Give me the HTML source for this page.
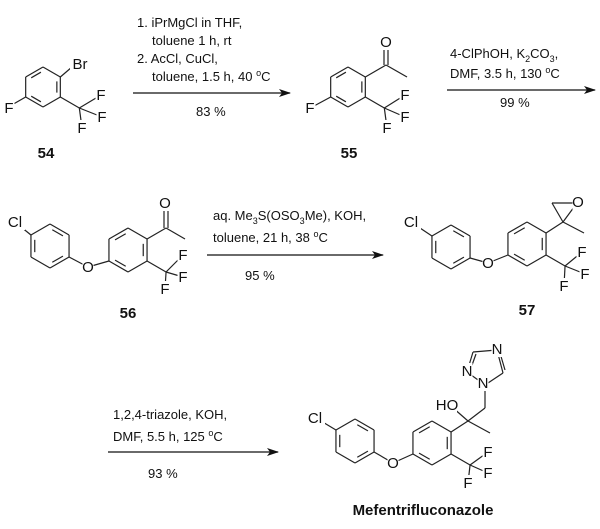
<!DOCTYPE html>
<html><head><meta charset="utf-8"><style>
html,body{margin:0;padding:0;background:#fff;}
svg{display:block;font-family:"Liberation Sans",Arial,sans-serif;}
.t{font-size:13px;fill:#111;}
.a{font-size:15px;fill:#111;}
.b{font-size:15px;font-weight:bold;fill:#111;}
</style></head><body>
<svg id="s" width="600" height="529" viewBox="0 0 600 529" xmlns="http://www.w3.org/2000/svg">
<defs><marker id="ar" markerWidth="12" markerHeight="8" refX="11" refY="4" orient="auto" markerUnits="userSpaceOnUse"><path d="M0,0 L12,4 L0,8 L3,4 z" fill="#111"/></marker></defs>
<g id="bonds" stroke="#222" stroke-width="1.2" fill="none"></g>
<g id="arrows" stroke="#111" stroke-width="1.3">
<line x1="133" y1="93" x2="290" y2="93" marker-end="url(#ar)"/>
<line x1="447" y1="90" x2="595" y2="90" marker-end="url(#ar)"/>
<line x1="207" y1="255" x2="383" y2="255" marker-end="url(#ar)"/>
<line x1="108" y1="452" x2="278" y2="452" marker-end="url(#ar)"/>
</g>
<g id="labels"></g>
<text class="t" x="137" y="27">1. iPrMgCl in THF,</text>
<text class="t" x="152" y="45">toluene 1 h, rt</text>
<text class="t" x="137" y="63">2. AcCl, CuCl,</text>
<text class="t" x="152" y="81">toluene, 1.5 h, 40 <tspan font-size="9" dy="-5">o</tspan><tspan dy="5">C</tspan></text>
<text class="t" x="196" y="116">83 %</text>
<text class="t" x="450" y="58">4-ClPhOH, K<tspan font-size="9" dy="4">2</tspan><tspan dy="-4">CO</tspan><tspan font-size="9" dy="4">3</tspan><tspan dy="-4">,</tspan></text>
<text class="t" x="450" y="78">DMF, 3.5 h, 130 <tspan font-size="9" dy="-5">o</tspan><tspan dy="5">C</tspan></text>
<text class="t" x="500" y="107">99 %</text>
<text class="t" x="213" y="220">aq. Me<tspan font-size="9" dy="4">3</tspan><tspan dy="-4">S(OSO</tspan><tspan font-size="9" dy="4">3</tspan><tspan dy="-4">Me), KOH,</tspan></text>
<text class="t" x="213" y="242">toluene, 21 h, 38 <tspan font-size="9" dy="-5">o</tspan><tspan dy="5">C</tspan></text>
<text class="t" x="245" y="280">95 %</text>
<text class="t" x="113" y="419">1,2,4-triazole, KOH,</text>
<text class="t" x="113" y="441">DMF, 5.5 h, 125 <tspan font-size="9" dy="-5">o</tspan><tspan dy="5">C</tspan></text>
<text class="t" x="148" y="478">93 %</text>
<text class="b" x="46" y="158" text-anchor="middle">54</text>
<text class="b" x="349" y="158" text-anchor="middle">55</text>
<text class="b" x="128" y="318" text-anchor="middle">56</text>
<text class="b" x="527" y="315" text-anchor="middle">57</text>
<text class="b" x="423" y="515" text-anchor="middle" font-size="14">Mefentrifluconazole</text>
</svg>
<script>
var B=document.getElementById('bonds'),L=document.getElementById('labels'),NS='http://www.w3.org/2000/svg';
function ln(x1,y1,x2,y2){var e=document.createElementNS(NS,'line');e.setAttribute('x1',x1);e.setAttribute('y1',y1);e.setAttribute('x2',x2);e.setAttribute('y2',y2);B.appendChild(e);}
function lb(t,x,y){var w=t.length*9+2;var r=document.createElementNS(NS,'rect');r.setAttribute('x',x-w/2);r.setAttribute('y',y-8);r.setAttribute('width',w);r.setAttribute('height',16);r.setAttribute('fill','#fff');L.appendChild(r);
var e=document.createElementNS(NS,'text');e.setAttribute('class','a');e.setAttribute('x',x);e.setAttribute('y',y+5);e.setAttribute('text-anchor','middle');e.textContent=t;L.appendChild(e);}
function ring(cx,cy,r,sides){var v=[];for(var k=0;k<6;k++){var a=(-90+60*k)*Math.PI/180;v.push([cx+r*Math.cos(a),cy+r*Math.sin(a)]);}
for(var k=0;k<6;k++){var p=v[k],q=v[(k+1)%6];ln(p[0],p[1],q[0],q[1]);}
sides.forEach(function(k){var p=v[k],q=v[(k+1)%6];var f=0.8;
var pi=[cx+(p[0]-cx)*f,cy+(p[1]-cy)*f],qi=[cx+(q[0]-cx)*f,cy+(q[1]-cy)*f];
var s=0.15;ln(pi[0]+(qi[0]-pi[0])*s,pi[1]+(qi[1]-pi[1])*s,qi[0]-(qi[0]-pi[0])*s,qi[1]-(qi[1]-pi[1])*s);});return v;}
function cf3(x,y,f1,f2,f3){ln(x,y,x+19,y+11);ln(x+19,y+11,f1[0],f1[1]);ln(x+19,y+11,f2[0],f2[1]);ln(x+19,y+11,f3[0],f3[1]);lb('F',f1[0],f1[1]);lb('F',f2[0],f2[1]);lb('F',f3[0],f3[1]);}
var v,w;
v=ring(43,87,20,[5,1,3]);
ln(v[1][0],v[1][1],72,67);lb('Br',80,64);
ln(v[4][0],v[4][1],10,106);lb('F',9,108);
cf3(v[2][0],v[2][1],[101,95],[102,117],[82,128]);
v=ring(348,87,20,[5,1,3]);
ln(v[1][0],v[1][1],386,65);ln(386,65,407,77);ln(384,65,384,48);ln(388,65,388,48);lb('O',386,42);
ln(v[4][0],v[4][1],314,106);lb('F',310,108);
cf3(v[2][0],v[2][1],[405,95],[405,117],[387,128]);
v=ring(128,250,22,[5,1,3]);
ln(v[1][0],v[1][1],166,228);ln(166,228,185,239);ln(164,228,164,208);ln(168,228,168,208);lb('O',165,203);
cf3(v[2][0],v[2][1],[183,255],[183,277],[165,289]);
w=ring(50,246,22,[0,2,4]);
ln(v[4][0],v[4][1],88,267);ln(w[2][0],w[2][1],88,267);lb('O',88,267);
ln(w[5][0],w[5][1],15,222);lb('Cl',15,222);
v=ring(527,244,22,[5,1,3]);
ln(v[1][0],v[1][1],563,222);ln(563,222,584,233);ln(563,222,552,203);ln(552,203,577,203);ln(563,222,577,203);lb('O',578,202);
cf3(v[2][0],v[2][1],[582,252],[585,274],[564,286]);
w=ring(451,247,22,[0,2,4]);
ln(v[4][0],v[4][1],488,263);ln(w[2][0],w[2][1],488,263);lb('O',488,263);
ln(w[5][0],w[5][1],411,222);lb('Cl',411,222);
v=ring(432,443,22,[5,1,3]);
ln(v[1][0],v[1][1],468,421);ln(468,421,490,433);ln(468,421,452,407);lb('HO',447,405);
ln(468,421,485,408);ln(485,408,485,385);
ln(485,385,467,372);ln(467,372,473,352);ln(471,368,476,354);ln(473,352,497,350);ln(497,350,503,373);ln(500,353,505,370);ln(503,373,485,385);
lb('N',483,383);lb('N',467,371);lb('N',497,349);
cf3(v[2][0],v[2][1],[488,452],[488,473],[468,483]);
w=ring(355,441,22,[0,2,4]);
ln(v[4][0],v[4][1],393,463);ln(w[2][0],w[2][1],393,463);lb('O',393,463);
ln(w[5][0],w[5][1],316,418);lb('Cl',315,418);
</script>
</body></html>
